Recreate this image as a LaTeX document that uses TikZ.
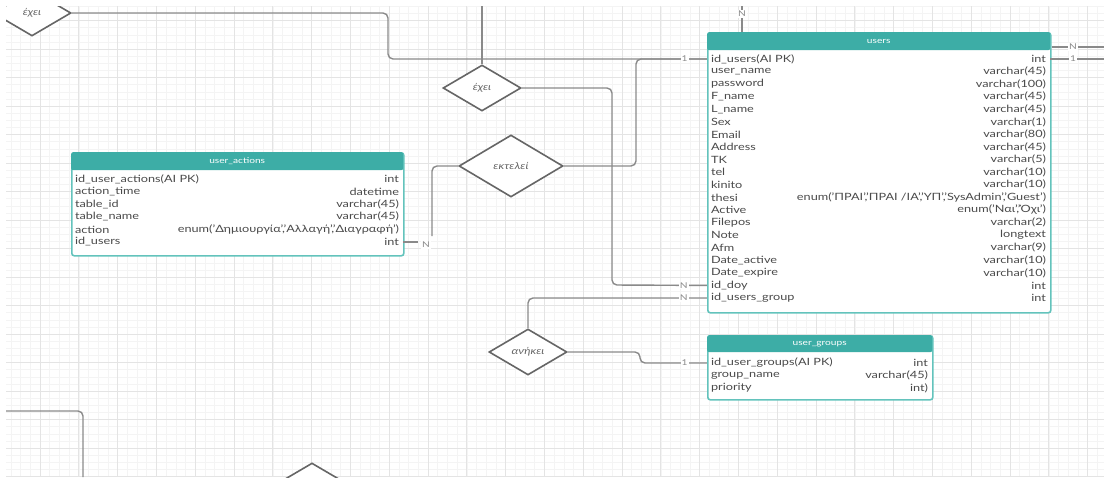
\documentclass[tikz,border=0pt]{standalone}
\usepackage{fontspec}
\setmainfont{Lato}[FakeStretch=1.27]
\usepackage{tikz}
\usetikzlibrary{shapes.geometric,positioning}

\definecolor{tealhead}{HTML}{3DADA6}
\definecolor{tealline}{HTML}{63C3BC}
\definecolor{fieldgray}{HTML}{4A4A4A}
\definecolor{conngray}{HTML}{8A8A8A}
\definecolor{diamgray}{HTML}{666666}
\definecolor{gridmajor}{HTML}{E4E4E4}
\definecolor{gridminor}{HTML}{F4F4F4}

\begin{document}
\begin{tikzpicture}[x=1pt,y=-1pt]
    \tikzset{tbl/.style={draw=tealline, line width=1.6pt, fill=white, rounded corners=2.5pt,
        anchor=north west, inner sep=0pt}}
    \tikzset{hdr/.style={fill=tealhead, text=white, rounded corners=2pt, anchor=north west,
        inner sep=0pt, font=\fontsize{8}{9}\selectfont}}
    \tikzset{row/.style={minimum height=12.5pt, inner sep=0pt}}
    \tikzset{fld/.style={anchor=west, inner sep=0pt, text=fieldgray, font=\fontsize{10}{11}\selectfont}}
    \tikzset{typ/.style={anchor=east, inner sep=0pt, text=fieldgray, font=\fontsize{10}{11}\selectfont}}
    \tikzset{rel/.style={diamond, draw=diamgray, line width=1.6pt, fill=white, inner sep=0pt,
        text=diamgray, font=\itshape\fontsize{9.5}{10}\selectfont}}
    \tikzset{conn/.style={draw=conngray, line width=1.4pt, rounded corners=5pt}}
    \tikzset{card/.style={fill=white, inner sep=1pt, text=conngray, font=\fontsize{8}{9}\selectfont}}

    \useasboundingbox (0,0) rectangle (1104,477);
    \begin{scope}
    \clip (6,6) rectangle (1104,477);
    \foreach \x in {1.2,10.9,...,1104} \draw[gridminor, line width=0.5pt] (\x,0) -- (\x,477);
    \foreach \y in {6.25,13.375,...,477} \draw[gridminor, line width=0.5pt] (0,\y) -- (1104,\y);
    \foreach \x in {40,78.8,...,1104} \draw[gridmajor, line width=0.8pt] (\x,0) -- (\x,477);
    \foreach \y in {20.5,49,...,477} \draw[gridmajor, line width=0.8pt] (0,\y) -- (1104,\y);

    % users
    \node[tbl, minimum width=343pt, minimum height=280pt] (users) at (707,32) {};
    \node[hdr, minimum width=343pt, minimum height=18pt] (users-h) at (707,32) {users};
    \foreach \f/\t [count=\i] in {
        id\_users(AI PK)/int, user\_name/varchar(45), password/varchar(100),
        F\_name/varchar(45), L\_name/varchar(45), Sex/varchar(1), Email/varchar(80),
        Address/varchar(45), TK/varchar(5), tel/varchar(10), kinito/varchar(10),
        thesi/{enum('ΠΡΑΙ','ΠΡΑΙ /ΙΑ','ΥΠ','SysAdmin','Guest')}, Active/{enum('Ναι','Όχι')},
        Filepos/varchar(2), Note/longtext, Afm/varchar(9), Date\_active/varchar(10),
        Date\_expire/varchar(10), id\_doy/int, id\_users\_group/int} {
        \node[row, minimum width=343pt] (u\i) at (878.5,{59+12.58*(\i-1)}) {};
        \node[fld] at ([xshift=4pt]u\i.west) {\f};
        \node[typ] at ([xshift=-4pt]u\i.east) {\t};
    }

    % user_actions
    \node[tbl, minimum width=332pt, minimum height=103pt] (actions) at (71,152) {};
    \node[hdr, minimum width=332pt, minimum height=18pt] (actions-h) at (71,152) {user\_actions};
    \foreach \f/\t [count=\i] in {
        id\_user\_actions(AI PK)/int, action\_time/datetime, table\_id/varchar(45),
        table\_name/varchar(45), action/{enum('Δημιουργία','Αλλαγή','Διαγραφή')},
        id\_users/int} {
        \node[row, minimum width=332pt] (a\i) at (237,{179+12.6*(\i-1)}) {};
        \node[fld] at ([xshift=4pt]a\i.west) {\f};
        \node[typ] at ([xshift=-4pt]a\i.east) {\t};
    }

    % user_groups
    \node[tbl, minimum width=225pt, minimum height=64pt] (groups) at (707,335) {};
    \node[hdr, minimum width=225pt, minimum height=17pt] (groups-h) at (707,335) {user\_groups};
    \foreach \f/\t [count=\i] in {
        id\_user\_groups(AI PK)/int, group\_name/varchar(45), priority/int)} {
        \node[row, minimum width=225pt] (g\i) at (819.5,{363+12.5*(\i-1)}) {};
        \node[fld] at ([xshift=4pt]g\i.west) {\f};
        \node[typ] at ([xshift=-4pt]g\i.east) {\t};
    }

    % relations
    \node[rel, minimum width=78pt, minimum height=46pt] (d1) at (32,13) {έχει};
    \node[rel, minimum width=78pt, minimum height=46pt] (d2) at (482,88) {έχει};
    \node[rel, minimum width=104pt, minimum height=62pt] (d3) at (511,166) {εκτελεί};
    \node[rel, minimum width=78pt, minimum height=46pt] (d4) at (528,352) {ανήκει};
    \node[rel, minimum width=78pt, minimum height=46pt] (d5) at (312,486) {};

    \coordinate (top-d2) at (482,0);
    \coordinate (top-users) at (742,0);
    \coordinate (right-n) at (1104,47);
    \coordinate (right-1) at (1104,59);
    \coordinate (left-in) at (0,411);
    \coordinate (bottom-out) at (83,477);

    \draw[conn] (d1.east) -- (388,13) -- (388,59) -- (u1.west);
    \draw[conn] (top-d2) -- (d2.north);
    \draw[conn] (d2.east) -- (612,88) -- (612,285) -- (u19.west);
    \draw[conn] (d3.east) -- (636,166) -- (636,59) -- (u1.west);
    \draw[conn] (a6.east) -- ++(15,0);
    \draw[conn] (d3.west) -- (432,166) -- (432,236);
    \draw[conn] (d4.north) -- (528,298) -- (u20.west);
    \draw[conn] (d4.east) -- (640,352) -- (640,363) -- (g1.west);
    \draw[conn] (top-users) -- (top-users |- users.north);
    \draw[conn] (right-n -| users.east) -- (right-n);
    \draw[conn] (u1.east) -- (right-1);
    \draw[conn] (left-in) -| (bottom-out);

    \node[card, left=18pt of u1.west] {1};
    \node[card, left=18pt of u19.west] {N};
    \node[card, left=18pt of u20.west] {N};
    \node[card, left=18pt of g1.west] {1};
    \node[card] at (426,245) {N};
    \node[card] at (742,14) {N};
    \node[card] at (1073,47) {N};
    \node[card] at (1073,59) {1};
    \end{scope}
\end{tikzpicture}
\end{document}
